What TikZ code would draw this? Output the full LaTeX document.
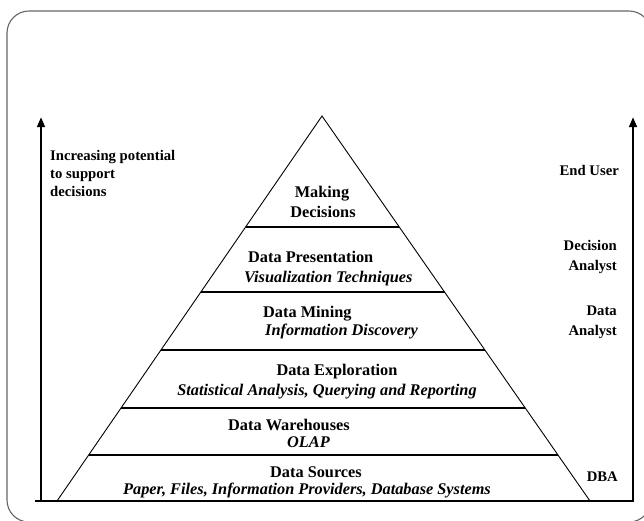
\documentclass[tikz,border=0pt]{standalone}
\usepackage{fontspec}
\setmainfont{Liberation Serif}
\usetikzlibrary{arrows.meta, calc}

\tikzset{
  tier/.style={font=\fontsize{16.3}{19}\selectfont\bfseries, inner sep=0pt},
  tiersub/.style={font=\fontsize{16.3}{19}\selectfont\bfseries\itshape, inner sep=0pt},
  side/.style={font=\fontsize{14.7}{17}\selectfont\bfseries, inner sep=0pt},
  riser/.style={line width=2.6pt, -{Triangle[length=10pt,width=7.5pt]}},
}

\begin{document}
\begin{tikzpicture}[x=1pt, y=-1pt]
\useasboundingbox (0,0) rectangle (644,520);
\fill[white] (0,0) rectangle (644,520);

% Frame
\draw[line width=1.1pt, black!60, rounded corners=22pt] (7,11) rectangle (651,522);

% Pyramid
\coordinate (apex) at (322,116);
\coordinate (baseL) at (57,501);
\coordinate (baseR) at (590,501);
\draw[line width=0.9pt] (baseL) -- (apex) -- (baseR);

% Layer boundaries
\foreach \t/\w in {0.2883/1.2, 0.4571/1.2, 0.6078/2.2, 0.7584/1.2, 0.8805/1.2}
  \draw[line width=\w pt] ($(apex)!\t!(baseL)$) -- ($(apex)!\t!(baseR)$);

% Ground line and arrows
\coordinate (groundL) at (35,501);
\coordinate (groundR) at (634,501);
\draw[line width=1.4pt] (groundL) -- (groundR);
\coordinate (leftFoot) at (41,501);
\coordinate (leftTip) at (41,117);
\coordinate (rightFoot) at (633,501);
\coordinate (rightTip) at (633,117);
\draw[riser] (leftFoot) -- (leftTip);
\draw[riser] (rightFoot) -- (rightTip);

% Layer texts
\node[tier, anchor=base] (mk1) at (322,197.5) {Making};
\node[tier, anchor=base] (mk2) at (323,217.5) {Decisions};
\node[tier, anchor=base west] (pr1) at (248,262.5) {Data Presentation};
\node[tiersub, anchor=base west] (pr2) at (244,282.5) {Visualization Techniques};
\node[tier, anchor=base west] (mn1) at (263,317.5) {Data Mining};
\node[tiersub, anchor=base west] (mn2) at (265,335.5) {Information Discovery};
\node[tier, anchor=base] (ex1) at (337,375.5) {Data Exploration};
\node[tiersub, anchor=base] (ex2) at (327,395.5) {Statistical Analysis, Querying and Reporting};
\node[tier, anchor=base west] (wh1) at (228,430.5) {Data Warehouses};
\node[tiersub, anchor=base west] (wh2) at (287,447.5) {OLAP};
\node[tier, anchor=base] (src1) at (316,477.5) {Data Sources};
\node[tiersub, anchor=base] (src2) at (307,494.5) {Paper, Files, Information Providers, Database Systems};

% Left caption
\node[side, anchor=base west] (inc1) at (50,160) {Increasing potential};
\node[side, anchor=base west] (inc2) at (50,178) {to support};
\node[side, anchor=base west] (inc3) at (50,196.5) {decisions};

% User roles
\node[side, anchor=base east] (eu) at (619,175) {End User};
\node[side, anchor=base east] (da1) at (617,250) {Decision};
\node[side, anchor=base east] (da2) at (617,270) {Analyst};
\node[side, anchor=base east] (an1) at (617,315) {Data};
\node[side, anchor=base east] (an2) at (617,335) {Analyst};
\node[side, anchor=base east] (dba) at (618,481) {DBA};
\end{tikzpicture}
\end{document}
